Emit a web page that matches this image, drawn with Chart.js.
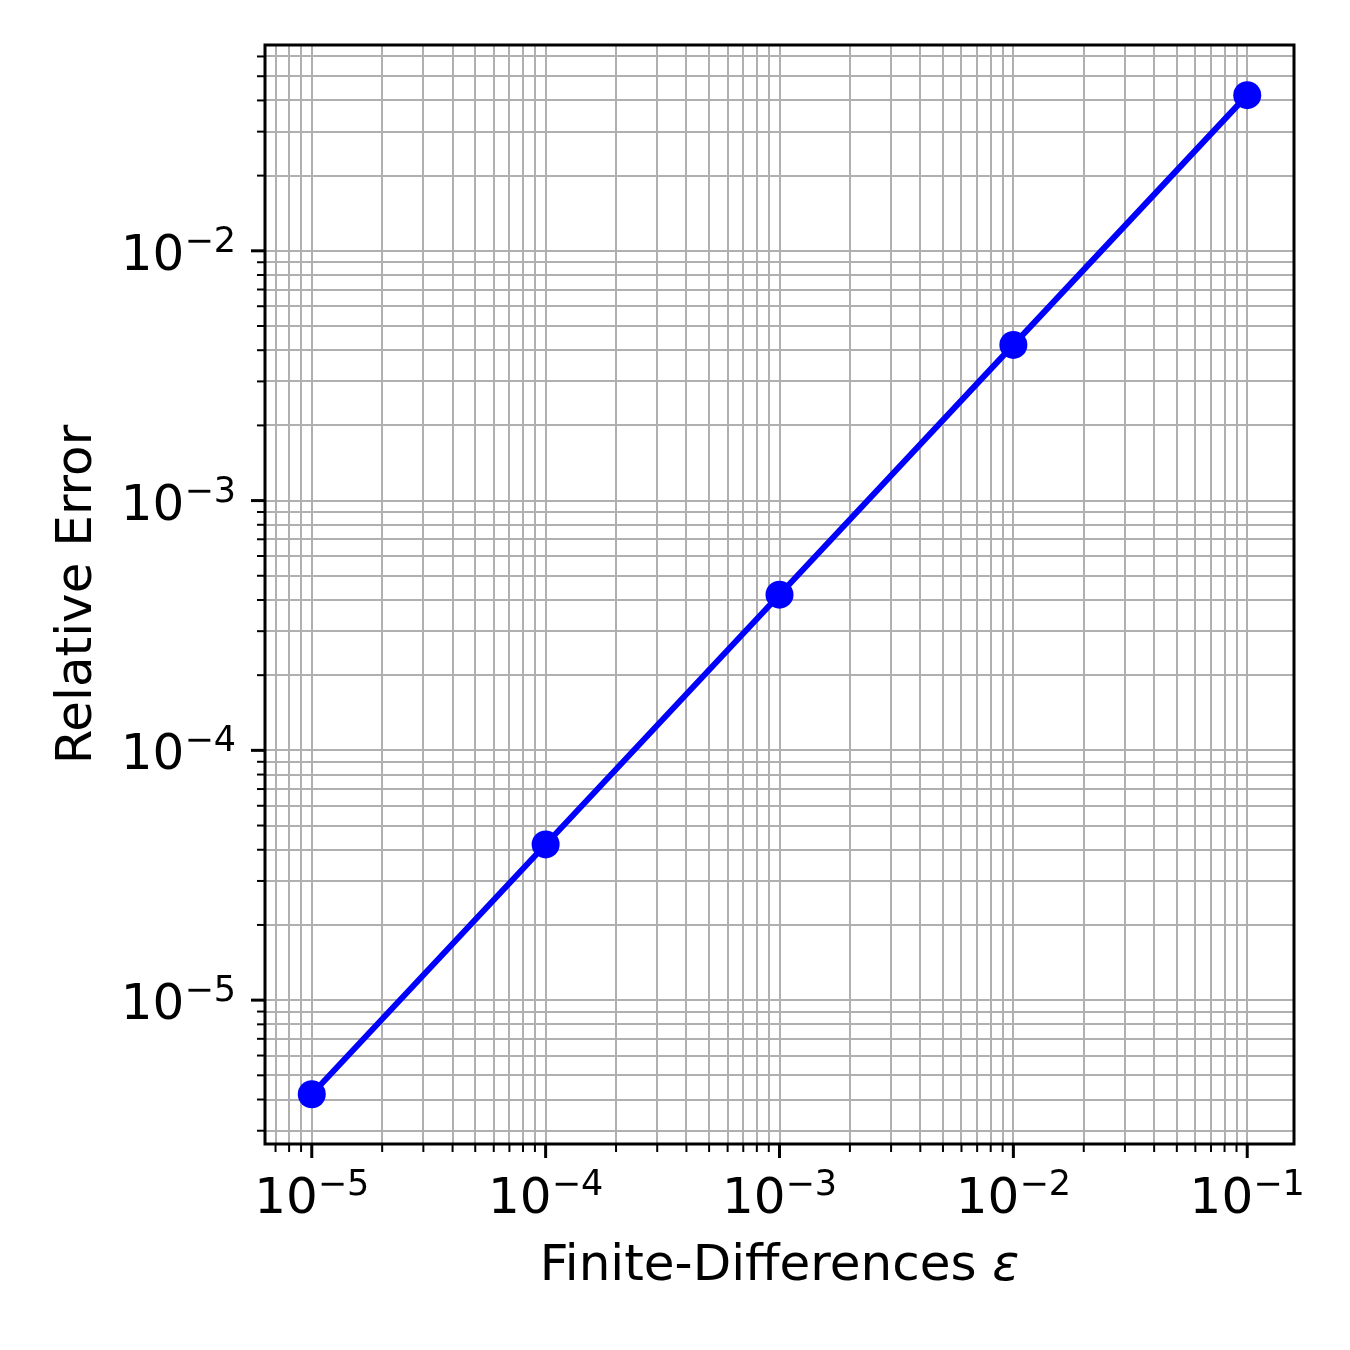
<!DOCTYPE html>
<html>
<head>
<meta charset="utf-8">
<script src="https://cdn.jsdelivr.net/npm/chart.js@4/dist/chart.umd.min.js"></script>
<style>
  html, body { margin: 0; padding: 0; background: #ffffff; }
  #wrap { width: 1350px; height: 1350px; }
</style>
</head>
<body>
<div id="wrap"><canvas id="myChart" width="1350" height="1350"></canvas></div>
<script>
// finite-difference step sizes and the relative error measured at each
var epsValues = [1e-5, 1e-4, 1e-3, 1e-2, 1e-1];
var relError = [4.2e-6, 4.2e-5, 4.2e-4, 4.2e-3, 4.2e-2];

// axis limits (matplotlib style 5% margins in log space)
var xLimits = [Math.pow(10, -5.2), Math.pow(10, -0.8)];
var yLimits = [Math.pow(10, -5.576), Math.pow(10, -1.176)];

var FONT = 'DejaVu Sans';

// major ticks at every decade, minor ticks at 2..9 x decade
function logTicks(scale) {
    var ticks = [];
    var lo = Math.floor(Math.log10(scale.min));
    var hi = Math.ceil(Math.log10(scale.max));
    for (var k = lo; k <= hi; k++) {
        for (var m = 1; m <= 9; m++) {
            var v = m * Math.pow(10, k);
            if (v >= scale.min && v <= scale.max) {
                ticks.push({ value: v, major: m === 1 });
            }
        }
    }
    scale.ticks = ticks;
}

// draws the frame, tick marks, power-of-ten labels and x title
var axesDecor = {
    id: 'axesDecor',
    afterDraw: function(chart) {
        var c = chart.ctx;
        var a = chart.chartArea;
        var xs = chart.scales.x, ys = chart.scales.y;
        c.save();
        c.strokeStyle = '#000000';
        c.fillStyle = '#000000';

        // tick marks
        xs.ticks.forEach(function(t) {
            var px = xs.getPixelForValue(t.value);
            c.lineWidth = t.major ? 3 : 2;
            c.beginPath();
            c.moveTo(px, a.bottom);
            c.lineTo(px, a.bottom + (t.major ? 14 : 8));
            c.stroke();
        });
        ys.ticks.forEach(function(t) {
            var py = ys.getPixelForValue(t.value);
            c.lineWidth = t.major ? 3 : 2;
            c.beginPath();
            c.moveTo(a.left, py);
            c.lineTo(a.left - (t.major ? 14 : 8), py);
            c.stroke();
        });

        // frame
        c.lineWidth = 3;
        c.strokeRect(a.left, a.top, a.right - a.left, a.bottom - a.top);

        // tick labels 10^k
        var bigFont = '50px "' + FONT + '"';
        var supFont = '35px "' + FONT + '"';
        c.textBaseline = 'alphabetic';
        c.textAlign = 'left';
        function labelParts(v) {
            var k = Math.round(Math.log10(v));
            return { base: '10', exp: (k < 0 ? '\u2212' : '') + Math.abs(k) };
        }
        xs.ticks.forEach(function(t) {
            if (!t.major) return;
            var p = labelParts(t.value);
            c.font = bigFont;
            var wb = c.measureText(p.base).width;
            c.font = supFont;
            var we = c.measureText(p.exp).width;
            var x0 = xs.getPixelForValue(t.value) - (wb + we) / 2;
            var base = 1213;
            c.font = bigFont;
            c.fillText(p.base, x0, base);
            c.font = supFont;
            c.fillText(p.exp, x0 + wb, base - 18);
        });
        ys.ticks.forEach(function(t) {
            if (!t.major) return;
            var p = labelParts(t.value);
            c.font = bigFont;
            var wb = c.measureText(p.base).width;
            c.font = supFont;
            var we = c.measureText(p.exp).width;
            var right = a.left - 29;
            var py = ys.getPixelForValue(t.value);
            var base = py + 19;
            c.font = bigFont;
            c.fillText(p.base, right - we - wb, base);
            c.font = supFont;
            c.fillText(p.exp, right - we, base - 18);
        });

        // x axis title with italic epsilon
        var t1 = 'Finite-Differences ';
        var t2 = '\u03b5';
        c.font = '50px "' + FONT + '"';
        var w1 = c.measureText(t1).width;
        c.font = 'italic 50px "' + FONT + '"';
        var w2 = c.measureText(t2).width;
        var sx = (a.left + a.right) / 2 - (w1 + w2) / 2;
        c.font = '50px "' + FONT + '"';
        c.fillText(t1, sx, 1280);
        c.font = 'italic 50px "' + FONT + '"';
        c.fillText(t2, sx + w1, 1280);
        c.restore();
    }
};

var ctx = document.getElementById('myChart').getContext('2d');
var chart = new Chart(ctx, {
    type: 'line',
    data: {
        datasets: [{
            data: epsValues.map(function(e, i) { return { x: e, y: relError[i] }; }),
            borderColor: '#0000ff',
            backgroundColor: '#0000ff',
            borderWidth: 6,
            pointRadius: 14,
            pointHoverRadius: 14,
            pointBorderWidth: 0,
            tension: 0
        }]
    },
    options: {
        responsive: false,
        devicePixelRatio: 1,
        animation: false,
        events: [],
        layout: { padding: { top: 45, right: 56, left: 0, bottom: 0 } },
        plugins: {
            legend: { display: false },
            tooltip: { enabled: false }
        },
        scales: {
            x: {
                type: 'logarithmic',
                min: xLimits[0],
                max: xLimits[1],
                afterBuildTicks: logTicks,
                afterFit: function(s) { s.height = 206; },
                ticks: { display: false },
                border: { display: false },
                grid: { color: '#b0b0b0', lineWidth: 2, drawTicks: false }
            },
            y: {
                type: 'logarithmic',
                min: yLimits[0],
                max: yLimits[1],
                afterBuildTicks: logTicks,
                afterFit: function(s) { s.width = 265; },
                ticks: { display: false },
                border: { display: false },
                grid: { color: '#b0b0b0', lineWidth: 2, drawTicks: false },
                title: {
                    display: true,
                    text: 'Relative Error',
                    color: '#000000',
                    font: { family: FONT, size: 50 },
                    padding: { top: 48, bottom: 0 }
                }
            }
        }
    },
    plugins: [axesDecor]
});
</script>
</body>
</html>
